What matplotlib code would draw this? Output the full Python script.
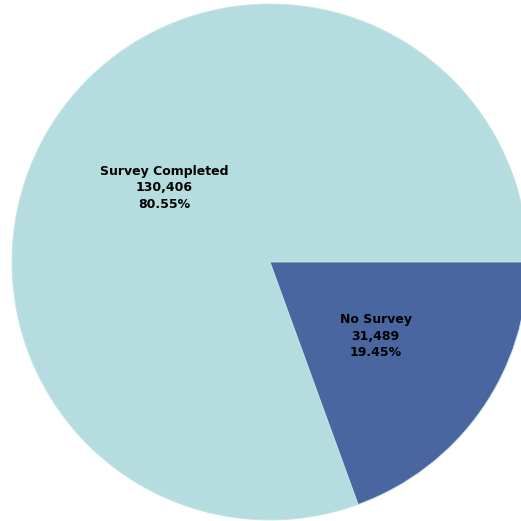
import matplotlib
matplotlib.use("Agg")
import matplotlib.pyplot as plt

categories = ["Survey Completed", "No Survey"]
counts = [130406, 31489]
colors = ["#b5dde0", "#4a66a1"]

total = sum(counts)
labels = [f"{c}\n{v:,}\n{v / total * 100:.2f}%" for c, v in zip(categories, counts)]

fig = plt.figure(figsize=(5.21, 5.21), dpi=100)
ax = fig.add_axes([0, 0, 1, 1])

wedges, texts = ax.pie(counts, labels=labels, colors=colors, startangle=0,
                       counterclock=True, center=(270, 259), radius=258,
                       labeldistance=0.5, frame=True,
                       wedgeprops=dict(edgecolor="#c8e4e6", linewidth=0.6),
                       textprops=dict(fontsize=9, fontweight="bold",
                                      ha="center", va="center",
                                      linespacing=1.35, color="black"))
ax.set_xlim(0, 521)
ax.set_ylim(0, 521)
ax.set_aspect("equal")
ax.axis("off")

fig.savefig("out.png", dpi=100)
